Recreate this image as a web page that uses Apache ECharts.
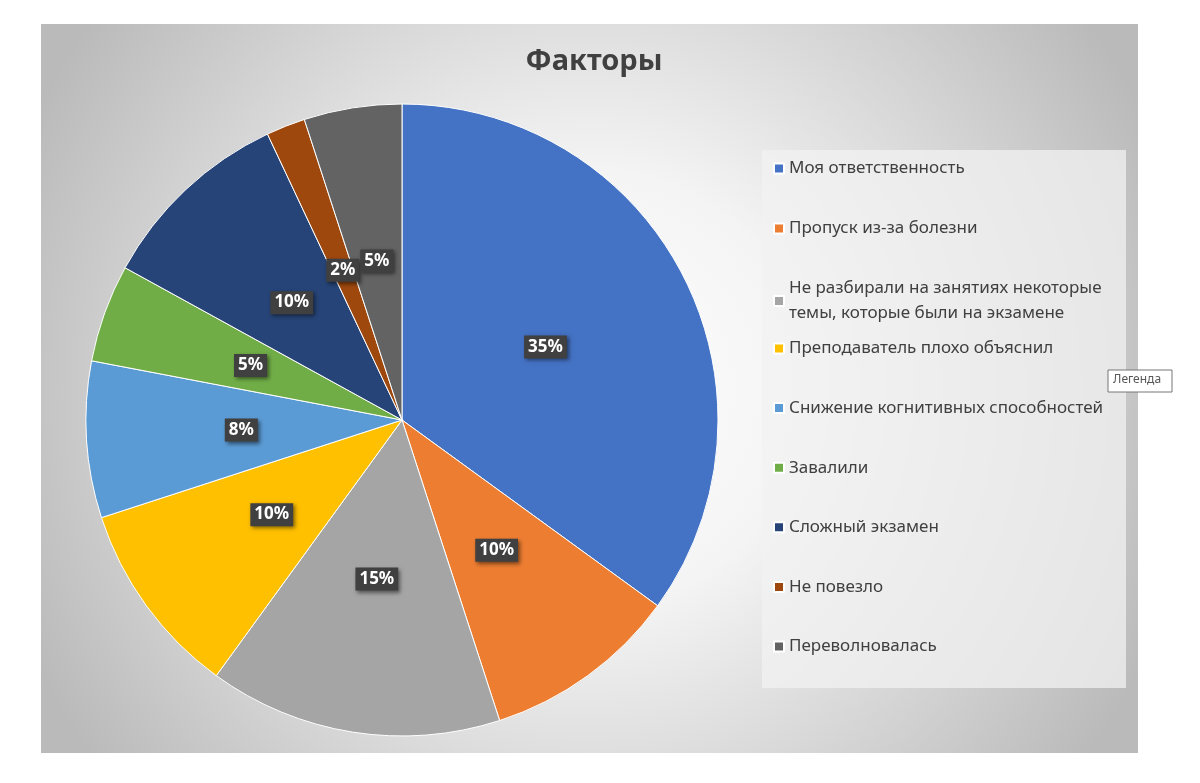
<!DOCTYPE html>
<html><head><meta charset="utf-8">
<script src="https://cdn.jsdelivr.net/npm/echarts@6/dist/echarts.min.js"></script>
<style>html,body{margin:0;padding:0;background:#fff}#c{width:1200px;height:783px}</style>
</head><body><div id="c"></div>
<script>
const categories = ['Моя ответственность','Пропуск из-за болезни','Не разбирали на занятиях некоторые\nтемы, которые были на экзамене','Преподаватель плохо объяснил','Снижение когнитивных способностей','Завалили','Сложный экзамен','Не повезло','Переволновалась'];
const values = [35,10,15,10,8,5,10,2,5];
const colors = ['#4472C4','#ED7D31','#A5A5A5','#FFC000','#5B9BD5','#70AD47','#264478','#9E480E','#636363'];
const chart = echarts.init(document.getElementById('c'));
const legendText = {fontSize:17,color:'#404040',fontFamily:'Noto Sans',lineHeight:25};
chart.setOption({
  color: colors,
  title:{text:'Факторы',left:589,top:42,textAlign:'center',textStyle:{fontSize:29,fontWeight:'bold',color:'#404040',fontFamily:'Noto Sans'}},
  graphic:[
    {type:'rect',z:-10,shape:{x:41,y:24,width:1097,height:729},style:{fill:{type:'radial',x:0.5,y:0.5,r:0.85,colorStops:[{offset:0,color:'#ffffff'},{offset:0.35,color:'#f4f4f4'},{offset:1,color:'#bababa'}]}}},
    {type:'rect',z:-9,shape:{x:762,y:150,width:364,height:538},style:{fill:'rgba(242,242,242,0.75)'}},
    {type:'rect',z:10,shape:{x:1108,y:370,width:64,height:22},style:{fill:'#fff',stroke:'#767676',lineWidth:1}},
    {type:'text',z:11,left:1113,top:374,style:{text:'Легенда',fontSize:12,fill:'#575757',fontFamily:'Noto Sans'}}
  ],
  legend:[
    {orient:'vertical',left:768,top:151,itemWidth:10,itemHeight:10,itemGap:35,icon:'rect',data:categories.slice(0,3),textStyle:legendText,selectedMode:false},
    {orient:'vertical',left:768,top:331,itemWidth:10,itemHeight:10,itemGap:34.6,icon:'rect',data:categories.slice(3),textStyle:legendText,selectedMode:false}
  ],
  series:[{
    type:'pie',center:[402,420],radius:316,startAngle:90,clockwise:true,
    data:categories.map((n,i)=>({name:n,value:values[i]})),
    itemStyle:{borderColor:'#fff',borderWidth:1},
    label:{position:'inside',formatter:'{c}%',color:'#fff',fontWeight:'bold',fontSize:17,fontFamily:'Noto Sans',
      backgroundColor:'#404040',padding:[4,4,2,4],shadowColor:'rgba(0,0,0,0.5)',shadowBlur:4,shadowOffsetX:2,shadowOffsetY:2},
    labelLine:{show:false},emphasis:{disabled:true},animation:false
  }]
});
</script></body></html>
